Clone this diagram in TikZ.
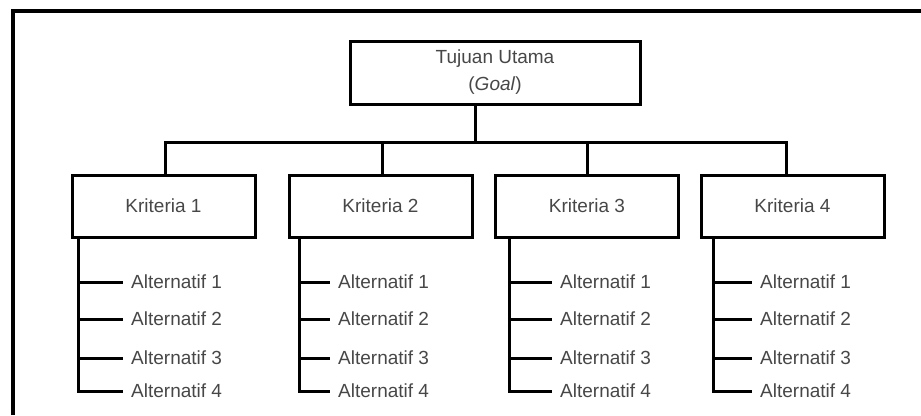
\documentclass[tikz,border=0pt]{standalone}
\usepackage{fontspec}
\setmainfont{Liberation Sans}
\begin{document}
\begin{tikzpicture}[x=1pt,y=-1pt,
  box/.style={draw=black, line width=3pt, minimum width=183pt, minimum height=62pt, inner sep=0pt,
    font=\fontsize{19}{27}\selectfont, text=black!72},
  goalbox/.style={draw=black, line width=3pt, minimum width=290pt, minimum height=63pt, inner sep=0pt,
    align=center, font=\fontsize{19}{27}\selectfont, text=black!72},
  alt/.style={anchor=west, inner xsep=8pt, inner ysep=0pt, font=\fontsize{19}{22}\selectfont, text=black!72},
  conn/.style={draw=black, line width=3pt},
  frame/.style={draw=black, line width=4pt}]
\useasboundingbox (0,0) rectangle (921,415);
% outer frame (top and left edges visible)
\coordinate (f1) at (12.5,415);
\coordinate (f2) at (12.5,10.5);
\coordinate (f3) at (921,10.5);
\draw[frame] (f1) -- (f2) -- (f3);
% goal
\node[goalbox] (goal) at (495,72.5) {Tujuan Utama\\(\textit{Goal})};
\coordinate (j) at (475,142);
\coordinate (bl) at (165,142);
\coordinate (br) at (786,142);
\draw[conn] (goal.south -| j) -- (j);
\draw[conn, line cap=rect] (bl) -- (br);
% criteria columns: index/center x/stem x/vertical x/branch end
\foreach \i/\cx/\s/\v/\e in {1/163.5/165/78/123, 2/380.5/382/299/330, 3/587/587/509/552, 4/792.5/786/713/752}{
  \node[box] (k\i) at (\cx,206) {Kriteria \i};
  \coordinate (s\i) at (\s,142);
  \draw[conn] (s\i) -- (k\i.north -| s\i);
  \foreach \j/\y in {1/282, 2/319, 3/358, 4/391}{
    \node[alt] (a\i\j) at (\e,\y) {Alternatif \j};
    \coordinate (b\i\j) at (\v,\y);
  }
  \draw[conn] (k\i.south -| b\i1) -- (b\i4) -- (a\i4.west);
  \foreach \j in {1,2,3}{
    \draw[conn] (b\i\j) -- (a\i\j.west);
  }
}
\end{tikzpicture}
\end{document}
